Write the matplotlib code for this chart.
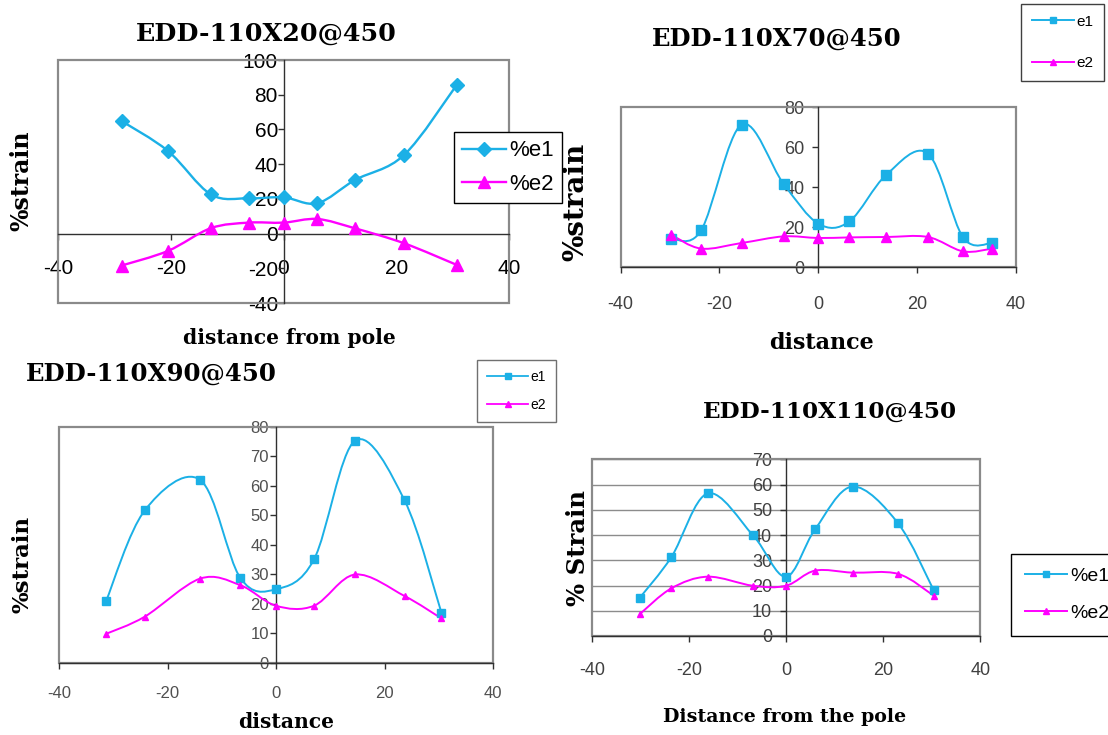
import numpy as np
import matplotlib
matplotlib.use("Agg")
import matplotlib.pyplot as plt
from matplotlib.path import Path
from matplotlib.patches import PathPatch, Rectangle
from matplotlib.lines import Line2D
from matplotlib import font_manager

plt.rcParams["axes.unicode_minus"] = False

# ---------------- data ----------------
c1_x = [-28.7, -20.5, -12.9, -6.2, 0.0, 6.0, 12.7, 21.4, 30.7]
c1_e1 = [64.8, 47.6, 22.6, 20.3, 20.9, 17.5, 30.9, 45.3, 85.5]
c1_e2 = [-18.4, -10.0, 3.1, 6.3, 6.3, 8.4, 3.0, -5.6, -18.0]

c2_x = [-29.8, -23.7, -15.5, -7.0, 0.0, 6.3, 13.8, 22.2, 29.3, 35.2]
c2_e1 = [14.2, 18.3, 71.2, 41.5, 21.7, 22.8, 46.2, 56.7, 14.8, 12.0]
c2_e2 = [16.2, 9.2, 12.0, 15.3, 14.5, 14.8, 15.0, 15.0, 7.8, 9.2]

c3_x = [-31.3, -24.2, -14.0, -6.6, 0.0, 7.0, 14.6, 23.7, 30.5]
c3_e1 = [21.0, 51.6, 62.0, 28.8, 24.9, 35.0, 75.3, 55.0, 16.9]
c3_e2 = [9.8, 15.6, 28.5, 26.3, 19.3, 19.3, 29.9, 22.6, 15.0]

c4_x = [-30.1, -23.6, -16.1, -6.8, 0.0, 6.0, 13.7, 23.1, 30.4]
c4_e1 = [15.2, 31.3, 56.5, 39.9, 23.5, 42.3, 59.2, 44.6, 18.2]
c4_e2 = [8.7, 18.9, 23.5, 19.9, 19.9, 25.9, 25.1, 24.6, 16.0]

titles = ["EDD-110X20@450", "EDD-110X70@450", "EDD-110X90@450", "EDD-110X110@450"]
xlabels = ["distance from pole", "distance", "distance", "Distance from the pole"]
ylabels = ["%strain", "%strain", "%strain", "% Strain"]
legend_labels = [["%e1", "%e2"], ["e1", "e2"], ["e1", "e2"], ["%e1", "%e2"]]
x_ticks = [-40, -20, 0, 20, 40]
y_ticks1 = [-40, -20, 0, 20, 40, 60, 80, 100]
y_ticks2 = [0, 20, 40, 60, 80]
y_ticks3 = [0, 10, 20, 30, 40, 50, 60, 70, 80]
y_ticks4 = [0, 10, 20, 30, 40, 50, 60, 70]

# ---------------- style ----------------
CYAN = "#1BB0E6"
MAG = "#FF00FF"
W, H = 1108, 735
names = {f.name for f in font_manager.fontManager.ttflist}
NARROW = "Liberation Sans Narrow" if "Liberation Sans Narrow" in names else "Liberation Sans"
SERIF = "DejaVu Serif"
SANS = "Liberation Sans"

fig = plt.figure(figsize=(W / 100, H / 100), dpi=100)
fig.patch.set_facecolor("white")


def px_axes(x0, y0, x1, y1):
    return fig.add_axes([x0 / W, 1 - y1 / H, (x1 - x0) / W, (y1 - y0) / H])


def smooth_path(x, y):
    pts = np.column_stack([x, y]).astype(float)
    n = len(pts)
    verts = [pts[0]]
    codes = [Path.MOVETO]
    for i in range(n - 1):
        p0 = pts[i - 1] if i > 0 else pts[i]
        p1 = pts[i]
        p2 = pts[i + 1]
        p3 = pts[i + 2] if i + 2 < n else pts[i + 1]
        verts += [p1 + (p2 - p0) / 6.0, p2 - (p3 - p1) / 6.0, p2]
        codes += [Path.CURVE4] * 3
    return Path(verts, codes)


def draw_series(ax, x, y, color, marker, ms, lw):
    ax.add_patch(PathPatch(smooth_path(x, y), facecolor="none", edgecolor=color,
                           lw=lw, zorder=3))
    ax.plot(x, y, linestyle="none", marker=marker, ms=ms, color=color,
            markeredgecolor=color, zorder=4)


def setup_axes(ax, ylim, yticks, tick_font, tick_size, tick_color, xpad, ypad,
               grid=False):
    ax.set_xlim(-40, 40)
    ax.set_ylim(*ylim)
    ax.set_facecolor("none")
    ax.spines["top"].set_visible(False)
    ax.spines["right"].set_visible(False)
    ax.spines["left"].set_position(("data", 0))
    ax.spines["bottom"].set_position(("data", 0))
    for s in ("left", "bottom"):
        ax.spines[s].set_color("#303030")
        ax.spines[s].set_linewidth(1.0)
        ax.spines[s].set_zorder(2.5)
    ax.add_patch(Rectangle((0, 0), 1, 1, transform=ax.transAxes, fill=False,
                           ec="#8a8a8a", lw=1.6, zorder=2, clip_on=False))
    ax.set_xticks(x_ticks)
    ax.set_yticks(yticks)
    ax.tick_params(axis="x", direction="out", length=4, width=1, color="#303030",
                   pad=xpad, labelsize=tick_size, labelcolor=tick_color)
    ax.tick_params(axis="y", direction="out", length=4, width=1, color="#303030",
                   pad=ypad, labelsize=tick_size, labelcolor=tick_color)
    for lab in ax.get_xticklabels() + ax.get_yticklabels():
        lab.set_fontfamily(tick_font)
    if grid:
        for v in yticks[1:]:
            ax.axhline(v, color="#8c8c8c", lw=1.0, zorder=1)


def add_legend(ax, labels, markers, ms, x0, y0, font, size, lw, labelspacing,
               handlelength, ec="black", borderpad=0.7):
    handles = [Line2D([], [], color=CYAN, marker=markers[0], ms=ms[0], lw=lw),
               Line2D([], [], color=MAG, marker=markers[1], ms=ms[1], lw=lw)]
    leg = ax.legend(handles, labels, loc="upper left",
                    bbox_to_anchor=(x0 / W, 1 - y0 / H),
                    bbox_transform=fig.transFigure, borderaxespad=0,
                    frameon=True, fancybox=False, framealpha=1,
                    edgecolor=ec, prop={"family": font, "size": size},
                    labelspacing=labelspacing, handlelength=handlelength,
                    handletextpad=0.15, borderpad=borderpad, numpoints=1)
    leg.get_frame().set_linewidth(1.0)
    leg.set_zorder(10)
    return leg


# ---------------- chart 1 ----------------
ax1 = px_axes(58, 60, 509, 303)
setup_axes(ax1, (-40, 100), y_ticks1, SANS, 15, "black", 14, 0)
draw_series(ax1, c1_x, c1_e1, CYAN, "D", 7, 1.7)
draw_series(ax1, c1_x, c1_e2, MAG, "^", 9, 1.7)
add_legend(ax1, legend_labels[0], ["D", "^"], [7, 9], 454, 132, SANS, 16, 1.7,
           0.55, 1.95, borderpad=0.38)
fig.text(266 / W, 1 - 34 / H, titles[0], ha="center", va="center",
         family=SERIF, weight="bold", size=18.3)
fig.text(21 / W, 1 - 181 / H, ylabels[0], ha="center", va="center",
         rotation=90, family=SERIF, weight="bold", size=17)
fig.text(289 / W, 1 - 338 / H, xlabels[0], ha="center", va="center",
         family=SERIF, weight="bold", size=14.6)

# ---------------- chart 2 ----------------
ax2 = px_axes(620.5, 107, 1016, 267)
setup_axes(ax2, (0, 80), y_ticks2, NARROW, 13, "#404040", 17, 6)
draw_series(ax2, c2_x, c2_e1, CYAN, "s", 7, 1.4)
draw_series(ax2, c2_x, c2_e2, MAG, "^", 7, 1.4)
add_legend(ax2, legend_labels[1], ["s", "^"], [5, 5], 1021, 4, NARROW, 11, 1.4,
           1.8, 2.8, ec="#404040")
fig.text(777 / W, 1 - 39 / H, titles[1], ha="center", va="center",
         family=SERIF, weight="bold", size=17.5)
fig.text(576 / W, 1 - 202 / H, ylabels[1], ha="center", va="center",
         rotation=90, family=SERIF, weight="bold", size=20)
fig.text(822 / W, 1 - 343 / H, xlabels[1], ha="center", va="center",
         family=SERIF, weight="bold", size=16)

# ---------------- chart 3 ----------------
ax3 = px_axes(59, 426.7, 493, 662.7)
setup_axes(ax3, (0, 80), y_ticks3, NARROW, 12, "#505050", 13, 1)
draw_series(ax3, c3_x, c3_e1, CYAN, "s", 6, 1.4)
draw_series(ax3, c3_x, c3_e2, MAG, "^", 5, 1.4)
add_legend(ax3, legend_labels[2], ["s", "^"], [5, 4], 477, 360, NARROW, 10,
           1.3, 1.05, 3.0, ec="#707070")
fig.text(26 / W, 1 - 374 / H, titles[2], ha="left", va="center",
         family=SERIF, weight="bold", size=17.6)
fig.text(23 / W, 1 - 564 / H, ylabels[2], ha="center", va="center",
         rotation=90, family=SERIF, weight="bold", size=16.5)
fig.text(286 / W, 1 - 722 / H, xlabels[2], ha="center", va="center",
         family=SERIF, weight="bold", size=14.6)

# ---------------- chart 4 ----------------
ax4 = px_axes(591.8, 459.3, 980.2, 636)
setup_axes(ax4, (0, 70), y_ticks4, NARROW, 13, "#404040", 15, 6, grid=True)
draw_series(ax4, c4_x, c4_e1, CYAN, "s", 6, 1.4)
draw_series(ax4, c4_x, c4_e2, MAG, "^", 5, 1.4)
add_legend(ax4, legend_labels[3], ["s", "^"], [5, 5], 1011, 554, SANS, 14, 1.4,
           1.0, 2.2)
fig.text(830 / W, 1 - 412 / H, titles[3], ha="center", va="center",
         family=SERIF, weight="bold", size=16.7)
fig.text(578 / W, 1 - 548 / H, ylabels[3], ha="center", va="center",
         rotation=90, family=SERIF, weight="bold", size=17.5)
fig.text(785 / W, 1 - 717 / H, xlabels[3], ha="center", va="center",
         family=SERIF, weight="bold", size=13.7)

fig.savefig("out.png", dpi=100, facecolor="white")
